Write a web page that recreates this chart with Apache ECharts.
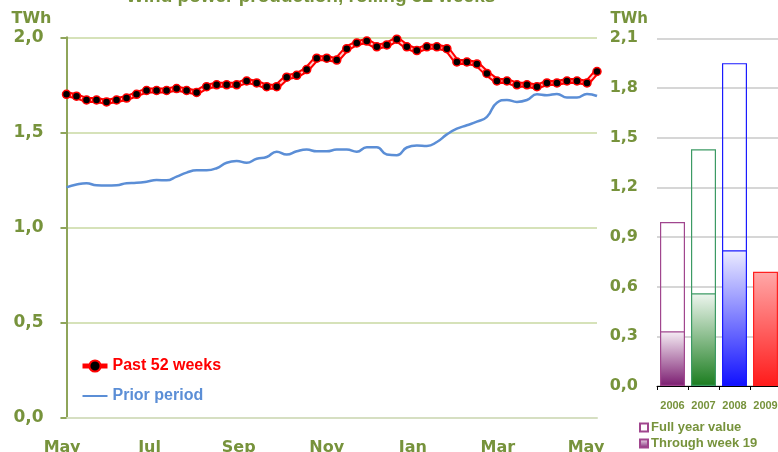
<!DOCTYPE html>
<html>
<head>
<meta charset="utf-8">
<script src="https://cdn.jsdelivr.net/npm/echarts@6/dist/echarts.min.js"></script>
<style>
  html, body { margin: 0; padding: 0; background: #fff; }
  #box { width: 778px; height: 452px; }
</style>
</head>
<body>
<div id="box"></div>
<script>
// rolling 52 weeks, one value per week (TWh)
const past52 = [1.70, 1.69, 1.67, 1.67, 1.66, 1.67, 1.68, 1.70, 1.72, 1.72,
  1.72, 1.73, 1.72, 1.71, 1.74, 1.75, 1.75, 1.75, 1.77, 1.76,
  1.74, 1.74, 1.79, 1.80, 1.83, 1.89, 1.89, 1.88, 1.94, 1.97,
  1.98, 1.95, 1.96, 1.99, 1.95, 1.93, 1.95, 1.95, 1.94, 1.87,
  1.87, 1.86, 1.81, 1.77, 1.77, 1.75, 1.75, 1.74, 1.76, 1.76,
  1.77, 1.77, 1.76, 1.82];
const prior = [1.21, 1.225, 1.232, 1.221, 1.22, 1.221, 1.232, 1.234, 1.24, 1.249,
  1.247, 1.267, 1.288, 1.30, 1.30, 1.311, 1.34, 1.349, 1.34, 1.361,
  1.37, 1.398, 1.383, 1.40, 1.409, 1.40, 1.40, 1.409, 1.409, 1.398,
  1.421, 1.421, 1.383, 1.379, 1.42, 1.43, 1.428, 1.449, 1.489, 1.519,
  1.537, 1.556, 1.581, 1.656, 1.67, 1.66, 1.67, 1.70, 1.695, 1.702,
  1.683, 1.683, 1.702, 1.691];
const monthNames = ['May', 'Jul', 'Sep', 'Nov', 'Jan', 'Mar', 'May'];
const monthPos = [-0.45, 8.3, 17.2, 26.0, 34.6, 43.1, 51.9];

const years = ['2006', '2007', '2008', '2009'];
const fullYear = [0.99, 1.43, 1.95, null];
const throughWk19 = [0.33, 0.56, 0.82, 0.69];

const olive = '#77933C';
const barColors = [
  { top: '#f6eef5', bottom: '#7b1c70', line: '#a0468e' },
  { top: '#eef6ef', bottom: '#1b7d1f', line: '#3c9a64' },
  { top: '#ececff', bottom: '#1010ff', line: '#1a1aff' },
  { top: '#ffa8a8', bottom: '#ff1a1a', line: '#ff2020' }
];
const grad = (c) => new echarts.graphic.LinearGradient(0, 0, 0, 1, [
  { offset: 0, color: c.top }, { offset: 1, color: c.bottom }
]);
const comma = (v) => v.toFixed(1).replace('.', ',');

const chartDom = document.getElementById('box');
const myChart = echarts.init(chartDom);

const option = {
  animation: false,
  title: {
    text: 'Wind power production, rolling 52 weeks',
    left: 121,
    top: -18,
    textStyle: { color: olive, fontSize: 19, fontWeight: 'bold', fontFamily: 'Liberation Sans, Arial' }
  },
  legend: [
    {
      orient: 'vertical',
      left: 75,
      top: 353,
      itemWidth: 25,
      itemHeight: 14,
      itemGap: 14,
      textStyle: { fontSize: 16, fontWeight: 'bold', fontFamily: 'Liberation Sans, Arial' },
      data: [
        { name: 'Past 52 weeks', textStyle: { color: '#ff0000' }, lineStyle: { color: '#ff0000', width: 5 } },
        { name: 'Prior period', textStyle: { color: '#5b8ed6' }, itemStyle: { opacity: 0 } }
      ]
    },
    {
      orient: 'vertical',
      left: 639,
      top: 421,
      padding: 0,
      itemWidth: 8,
      itemHeight: 8,
      itemGap: 3,
      icon: 'rect',
      textStyle: { color: olive, fontSize: 13, fontWeight: 'bold', fontFamily: 'Liberation Sans, Arial', padding: [0, 0, 0, -2] },
      data: ['Full year value', 'Through week 19']
    }
  ],
  grid: [
    { left: 61.5, top: 37.3, right: 181, bottom: 34.7, outerBoundsMode: 'none' },
    { left: 657, top: 38.3, width: 124, bottom: 66, outerBoundsMode: 'none' }
  ],
  xAxis: [
    {
      type: 'value',
      gridIndex: 0,
      min: -0.5,
      max: 53,
      axisLine: { show: true, lineStyle: { color: '#d6dfc2', width: 2 } },
      axisTick: { show: false },
      splitLine: { show: false },
      axisLabel: {
        customValues: monthPos,
        formatter: (v) => monthNames[monthPos.indexOf(v)],
        color: olive,
        fontSize: 16,
        fontWeight: 'bold',
        fontFamily: 'DejaVu Sans',
        margin: 23
      }
    },
    {
      type: 'category',
      gridIndex: 1,
      data: years,
      axisLine: { lineStyle: { color: '#000', width: 1 } },
      axisTick: { show: true, length: 4, lineStyle: { color: '#000' } },
      axisLabel: { interval: 0, color: olive, fontSize: 11, fontWeight: 'bold', fontFamily: 'Liberation Sans, Arial', margin: 14 }
    }
  ],
  yAxis: [
    {
      type: 'value',
      gridIndex: 0,
      min: 0,
      max: 2,
      interval: 0.5,
      name: 'TWh',
      nameGap: 10,
      nameTextStyle: { color: olive, fontSize: 16, fontWeight: 'bold', fontFamily: 'DejaVu Sans', align: 'right', padding: [0, 15, 0, 0] },
      axisLine: { show: true, lineStyle: { color: '#8fa55a', width: 2 } },
      axisTick: { show: true, length: 6, lineStyle: { color: '#8fa55a', width: 2 } },
      splitLine: { lineStyle: { color: '#c8d8a2', width: 1.5 } },
      axisLabel: { formatter: comma, color: olive, fontSize: 17, fontWeight: 'bold', fontFamily: 'DejaVu Sans', margin: 18 }
    },
    {
      type: 'value',
      gridIndex: 1,
      min: 0,
      max: 2.1,
      interval: 0.3,
      name: 'TWh',
      nameGap: 12,
      nameTextStyle: { color: olive, fontSize: 15, fontWeight: 'bold', fontFamily: 'DejaVu Sans', align: 'right', padding: [0, 9, 0, 0] },
      axisLine: { show: false },
      axisTick: { show: false },
      splitLine: { lineStyle: { color: '#c8c8c8', width: 1.5 } },
      axisLabel: { formatter: comma, color: olive, fontSize: 16, fontWeight: 'bold', fontFamily: 'DejaVu Sans', margin: 19 }
    }
  ],
  series: [
    {
      name: 'Prior period',
      type: 'line',
      xAxisIndex: 0,
      yAxisIndex: 0,
      smooth: true,
      symbol: 'none',
      color: '#5b8ed6',
      lineStyle: { width: 2.5, color: '#5b8ed6' },
      data: prior.map((v, i) => [i, v])
    },
    {
      name: 'past-outline',
      type: 'line',
      xAxisIndex: 0,
      yAxisIndex: 0,
      symbol: 'none',
      lineStyle: { width: 6, color: '#ff0000' },
      data: past52.map((v, i) => [i, v])
    },
    {
      name: 'Past 52 weeks',
      type: 'line',
      xAxisIndex: 0,
      yAxisIndex: 0,
      symbol: 'circle',
      symbolSize: 8,
      color: '#000',
      itemStyle: { color: '#000', borderColor: '#ff0000', borderWidth: 1.5 },
      lineStyle: { width: 2, color: '#ffcccc' },
      data: past52.map((v, i) => [i, v])
    },
    {
      name: 'Full year value',
      type: 'bar',
      xAxisIndex: 1,
      yAxisIndex: 1,
      barWidth: 25,
      itemStyle: { color: '#fff', borderColor: '#a0468e', borderWidth: 1.2 },
      data: fullYear.map((v, i) => ({
        value: v,
        itemStyle: { color: 'rgba(255,255,255,0)', borderColor: barColors[i].line, borderWidth: 1.2 }
      }))
    },
    {
      name: 'Through week 19',
      type: 'bar',
      xAxisIndex: 1,
      yAxisIndex: 1,
      barWidth: 25,
      barGap: '-100%',
      itemStyle: { color: grad(barColors[0]), borderColor: barColors[0].line, borderWidth: 1 },
      data: throughWk19.map((v, i) => ({
        value: v,
        itemStyle: { color: grad(barColors[i]), borderColor: barColors[i].line, borderWidth: 1.2 }
      }))
    }
  ]
};

option && myChart.setOption(option);
window.addEventListener('resize', function () {
  if (myChart) {
    myChart.resize();
  }
});
</script>
</body>
</html>
